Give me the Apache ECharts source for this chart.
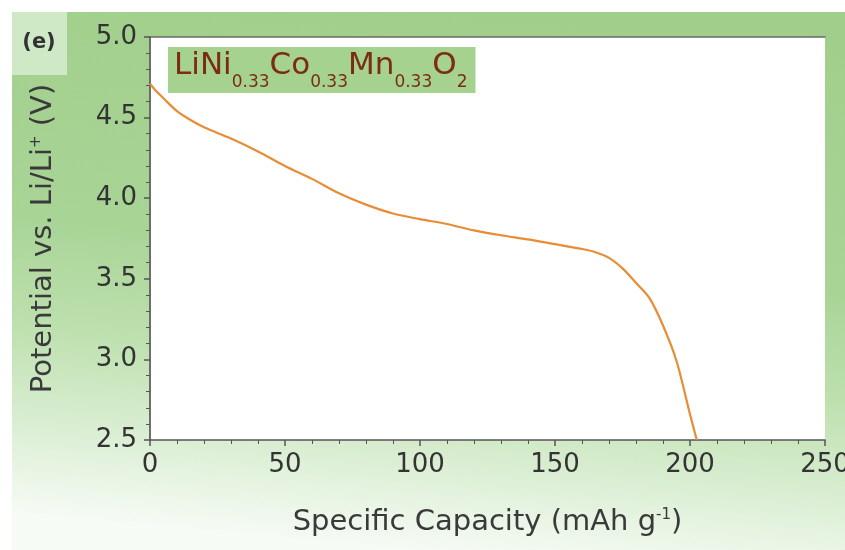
<!DOCTYPE html>
<html>
<head>
<meta charset="utf-8">
<script src="https://cdn.jsdelivr.net/npm/echarts@6/dist/echarts.min.js"></script>
<style>
html,body{margin:0;padding:0;background:#fff;}
#chart{width:845px;height:550px;}
</style>
</head>
<body>
<div id="chart"></div>
<script>
// Data
const capacity = [0, 2, 5, 10, 15, 20, 30, 40, 50, 60, 70, 80, 90, 100, 110, 120, 130, 140, 150, 155, 160, 165, 170, 175, 180, 185, 190, 195, 200, 202.5];
const potential = [4.71, 4.67, 4.62, 4.54, 4.485, 4.44, 4.37, 4.29, 4.20, 4.12, 4.03, 3.96, 3.905, 3.87, 3.84, 3.80, 3.77, 3.745, 3.715, 3.70, 3.685, 3.665, 3.63, 3.565, 3.475, 3.38, 3.21, 2.99, 2.66, 2.50];
const xTicks = [0, 50, 100, 150, 200, 250];
const yTicks = [2.5, 3.0, 3.5, 4.0, 4.5, 5.0];
const panelLabel = '(e)';
const seriesLabel = '{m|LiNi}{s|0.33}{m|Co}{s|0.33}{m|Mn}{s|0.33}{m|O}{s|2}';
const xName = '{n|Specific Capacity (mAh g}{p|-1}{n|)}';
const yName = '{n|Potential vs. Li/Li}{p|+}{n| (V)}';

const points = capacity.map((c, i) => [c, potential[i]]);
const chart = echarts.init(document.getElementById('chart'));
const font = 'DejaVu Sans';
const axisCol = '#555';
const nameRich = {
  n: { fontFamily: font, fontSize: 29, color: '#3a3a3a' },
  p: { fontFamily: font, fontSize: 15, color: '#3a3a3a', verticalAlign: 'top', lineHeight: 12 }
};

chart.setOption({
  animation: false,
  textStyle: { fontFamily: font },
  graphic: [
    {
      type: 'rect', z: -10, silent: true,
      shape: { x: 12, y: 12, width: 833, height: 538 },
      style: {
        fill: new echarts.graphic.LinearGradient(0.53, 0, 0.47, 1, [
          { offset: 0, color: '#a1cf8b' },
          { offset: 0.45, color: '#a8d496' },
          { offset: 0.65, color: '#bde0ae' },
          { offset: 0.82, color: '#d8edd0' },
          { offset: 1, color: '#f6fbf5' }
        ])
      }
    },
    {
      type: 'rect', z: -9, silent: true,
      shape: { x: 12, y: 12, width: 55, height: 63 },
      style: { fill: '#cfe8c6' }
    },
    {
      type: 'text', z: 10, silent: true,
      style: {
        text: panelLabel, x: 39, y: 43, align: 'center', verticalAlign: 'middle',
        fontFamily: font, fontWeight: 'bold', fontSize: 21, fill: '#333'
      }
    }
  ],
  title: {
    text: seriesLabel,
    left: 168, top: 47,
    backgroundColor: '#a5d28f',
    padding: [0, 8, 2, 6],
    textStyle: {
      fontWeight: 'normal',
      rich: {
        m: { fontFamily: font, fontSize: 31, fontWeight: 'normal', lineHeight: 38, color: '#7c2c14' },
        s: { fontFamily: font, fontSize: 17, fontWeight: 'normal', lineHeight: 1, verticalAlign: 'top', padding: [27, 0, 0, 0], color: '#7c2c14' }
      }
    }
  },
  grid: {
    left: 150, right: 20, top: 37, bottom: 110,
    outerBoundsMode: 'none',
    show: true, backgroundColor: '#ffffff', borderWidth: 0
  },
  xAxis: [
    {
      type: 'value', min: 0, max: 250, interval: 50,
      name: xName, nameLocation: 'middle', nameGap: 68,
      nameTextStyle: { rich: nameRich },
      axisLine: { show: true, lineStyle: { color: axisCol, width: 1.5 } },
      axisTick: { show: true, length: 6, lineStyle: { color: axisCol, width: 1.5 } },
      minorTick: { show: true, splitNumber: 5, length: 4, lineStyle: { color: axisCol } },
      axisLabel: {
        margin: 12, fontFamily: font, fontSize: 26, color: '#333',
        formatter: v => xTicks.includes(v) ? String(v) : ''
      },
      splitLine: { show: false }
    },
    {
      type: 'value', min: 0, max: 250, interval: 50, position: 'top',
      axisLine: { show: true, lineStyle: { color: '#6a6a6a', width: 1.5 } },
      axisTick: { show: false },
      axisLabel: { show: false },
      splitLine: { show: false }
    }
  ],
  yAxis: [
    {
      type: 'value', min: 2.5, max: 5.0, interval: 0.5,
      name: yName, nameLocation: 'middle', nameGap: 92, nameRotate: 90,
      nameTextStyle: { rich: nameRich },
      axisLine: { show: true, lineStyle: { color: axisCol, width: 1.5 } },
      axisTick: { show: true, length: 6, lineStyle: { color: axisCol, width: 1.5 } },
      minorTick: { show: true, splitNumber: 5, length: 4, lineStyle: { color: axisCol } },
      axisLabel: {
        margin: 13, fontFamily: font, fontSize: 26, color: '#333',
        formatter: v => {
          const t = yTicks.find(y => Math.abs(y - v) < 1e-6);
          return t === undefined ? '' : t.toFixed(1);
        }
      },
      splitLine: { show: false }
    },
    {
      type: 'value', min: 2.5, max: 5.0, interval: 0.5, position: 'right',
      axisLine: { show: true, lineStyle: { color: '#6a6a6a', width: 1.5 } },
      axisTick: { show: false },
      axisLabel: { show: false },
      splitLine: { show: false }
    }
  ],
  series: [
    {
      type: 'line',
      data: points,
      smooth: 0.3,
      showSymbol: false,
      clip: true,
      lineStyle: { color: '#e88c36', width: 2.2 }
    }
  ]
});
</script>
</body>
</html>
